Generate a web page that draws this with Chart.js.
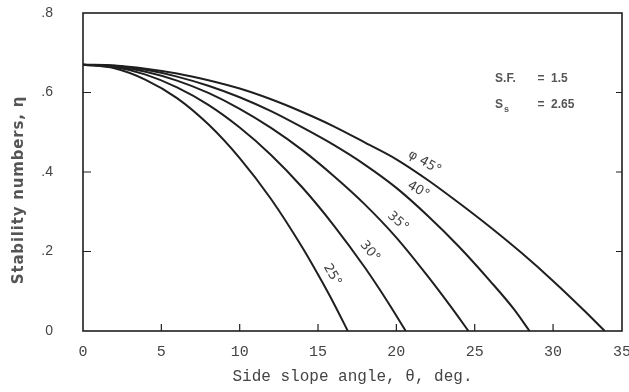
<!DOCTYPE html>
<html>
<head>
<meta charset="utf-8">
<script src="https://cdn.jsdelivr.net/npm/chart.js@4.4.1/dist/chart.umd.min.js"></script>
<style>
  html, body { margin: 0; padding: 0; background: #fff; overflow: hidden; }
</style>
</head>
<body>
<canvas id="chart" width="629" height="392"></canvas>
<script>
// side slope angle (deg) and stability number
const theta25 = [0, 2, 4, 6, 8, 10, 12, 14, 15, 16, 16.9];
const eta25 = [0.670, 0.661, 0.632, 0.586, 0.520, 0.435, 0.332, 0.210, 0.142, 0.070, 0];

const theta30 = [0, 2, 4, 6, 8, 10, 12, 14, 16, 18, 19.5, 20.6];
const eta30 = [0.670, 0.664, 0.645, 0.613, 0.569, 0.512, 0.443, 0.361, 0.266, 0.159, 0.070, 0];

const theta35 = [0, 2, 4, 6, 8, 10, 12, 14, 16, 18, 20, 22, 23.5, 24.6];
const eta35 = [0.670, 0.666, 0.652, 0.630, 0.599, 0.559, 0.511, 0.455, 0.390, 0.318, 0.235, 0.138, 0.060, 0];

const theta40 = [0, 2, 4, 6, 8, 10, 12, 14, 16, 18, 20, 22, 24, 26, 27.5, 28.5];
const eta40 = [0.670, 0.667, 0.657, 0.640, 0.617, 0.588, 0.553, 0.512, 0.468, 0.418, 0.360, 0.290, 0.212, 0.125, 0.055, 0];

const theta45 = [0, 2, 4, 6, 8, 10, 12, 14, 16, 18, 20, 22, 24, 26, 28, 30, 32, 33.3];
const eta45 = [0.670, 0.668, 0.660, 0.648, 0.631, 0.610, 0.583, 0.551, 0.515, 0.474, 0.432, 0.380, 0.322, 0.261, 0.196, 0.126, 0.051, 0];

const xTicks = [0, 5, 10, 15, 20, 25, 30, 34.4];
const xTickText = [`0`, `5`, `10`, `15`, `20`, `25`, `30`, `35`];
const yTicks = [0, 0.2, 0.4, 0.6, 0.8];
const yTickText = [`0`, `.2`, `.4`, `.6`, `.8`];

// curve labels: text, anchor (theta, eta), rotation in degrees
const curveLabels = [
  { text: `\u03c6 45\u00b0`, x: 21.8, y: 0.424, rot: 30 },
  { text: `40\u00b0`, x: 21.4, y: 0.354, rot: 30 },
  { text: `35\u00b0`, x: 20.1, y: 0.275, rot: 42 },
  { text: `30\u00b0`, x: 18.3, y: 0.2, rot: 50 },
  { text: `25\u00b0`, x: 15.9, y: 0.141, rot: 60 },
];

const ink = `#1f1f1f`;
const textInk = `#444`;

function pts(xs, ys) {
  return xs.map((x, i) => ({ x: x, y: ys[i] }));
}

function curve(label, xs, ys) {
  return {
    label: label,
    data: pts(xs, ys),
    showLine: true,
    borderColor: ink,
    borderWidth: 2,
    pointRadius: 0,
    fill: false,
    cubicInterpolationMode: `monotone`,
  };
}

// box round the plot and the inward tick marks
const framePlugin = {
  id: `frame`,
  afterDraw(chart) {
    const { ctx, chartArea: a, scales } = chart;
    ctx.save();
    ctx.strokeStyle = ink;
    ctx.lineWidth = 1.6;
    ctx.strokeRect(a.left, a.top, a.right - a.left, a.bottom - a.top);
    ctx.lineWidth = 1.2;
    ctx.beginPath();
    [0.2, 0.4, 0.6].forEach((v) => {
      const y = scales.y.getPixelForValue(v);
      ctx.moveTo(a.left, y);
      ctx.lineTo(a.left + 8, y);
      ctx.moveTo(a.right, y);
      ctx.lineTo(a.right - 6, y);
    });
    [5, 10, 15, 20, 25, 30].forEach((v) => {
      const x = scales.x.getPixelForValue(v);
      ctx.moveTo(x, a.bottom);
      ctx.lineTo(x, a.bottom - 7);
    });
    ctx.stroke();

    // y axis title, a little below the middle as in the scan
    ctx.save();
    ctx.translate(19, 190);
    ctx.rotate(-Math.PI / 2);
    ctx.fillStyle = `#555`;
    ctx.font = `bold 15px "DejaVu Sans"`;
    ctx.letterSpacing = `0.8px`;
    ctx.textAlign = `center`;
    ctx.textBaseline = `middle`;
    ctx.fillText(`Stability numbers, \u03b7`, 0, 0);
    ctx.restore();
    ctx.restore();
  },
};

// rotated curve labels and the S.F. / Ss note
const notePlugin = {
  id: `notes`,
  afterDatasetsDraw(chart) {
    const { ctx, scales } = chart;
    ctx.save();
    ctx.fillStyle = textInk;
    ctx.textAlign = `center`;
    ctx.textBaseline = `middle`;
    ctx.font = `13px "DejaVu Sans"`;
    curveLabels.forEach((l) => {
      ctx.save();
      ctx.translate(scales.x.getPixelForValue(l.x), scales.y.getPixelForValue(l.y));
      ctx.rotate((l.rot * Math.PI) / 180);
      ctx.fillText(l.text, 0, 0);
      ctx.restore();
    });

    ctx.textAlign = `left`;
    ctx.font = `bold 12px "Liberation Sans"`;
    ctx.fillStyle = `#555`;
    const x1 = scales.x.getPixelForValue(26.3),
      x2 = scales.x.getPixelForValue(29.0),
      r1 = scales.y.getPixelForValue(0.634),
      r2 = scales.y.getPixelForValue(0.57);
    ctx.fillText(`S.F.`, x1, r1);
    ctx.fillText(`=  1.5`, x2, r1);
    ctx.fillText(`S`, x1, r2);
    ctx.font = `bold 9px "Liberation Sans"`;
    ctx.fillText(`s`, x1 + 9, r2 + 5);
    ctx.font = `bold 12px "Liberation Sans"`;
    ctx.fillText(`=  2.65`, x2, r2);
    ctx.restore();
  },
};

const cfg = {
  type: `scatter`,
  data: {
    datasets: [
      curve(`25`, theta25, eta25),
      curve(`30`, theta30, eta30),
      curve(`35`, theta35, eta35),
      curve(`40`, theta40, eta40),
      curve(`45`, theta45, eta45),
    ],
  },
  options: {
    responsive: false,
    animation: false,
    devicePixelRatio: 1,
    layout: { padding: { top: 13, right: 7, bottom: 0, left: 0 } },
    plugins: {
      legend: { display: false },
      tooltip: { enabled: false },
    },
    scales: {
      x: {
        type: `linear`,
        min: 0,
        max: 34.4,
        afterBuildTicks: (s) => {
          s.ticks = xTicks.map((v) => ({ value: v }));
        },
        afterFit: (s) => {
          s.height = 61;
          s.paddingLeft = 0;
          s.paddingRight = 0;
        },
        grid: { display: false, drawTicks: false },
        border: { display: false },
        ticks: {
          padding: 12,
          color: textInk,
          font: { family: `"Liberation Mono"`, size: 15 },
          callback: (v) => xTickText[xTicks.indexOf(v)],
        },
        title: {
          display: true,
          text: `Side slope angle, \u03b8, deg.`,
          color: textInk,
          font: { family: `"Liberation Mono"`, size: 16 },
          padding: { top: 4, bottom: 6 },
        },
      },
      y: {
        type: `linear`,
        min: 0,
        max: 0.8,
        afterBuildTicks: (s) => {
          s.ticks = yTicks.map((v) => ({ value: v }));
        },
        afterFit: (s) => {
          s.width = 83;
          s.paddingTop = 0;
          s.paddingBottom = 0;
        },
        grid: { display: false, drawTicks: false },
        border: { display: false },
        ticks: {
          padding: 30,
          color: textInk,
          font: { family: `"Liberation Sans"`, size: 14 },
          callback: (v) => yTickText[yTicks.indexOf(v)],
        },
      },
    },
  },
  plugins: [framePlugin, notePlugin],
};

new Chart(document.getElementById(`chart`), cfg);
</script>
</body>
</html>
